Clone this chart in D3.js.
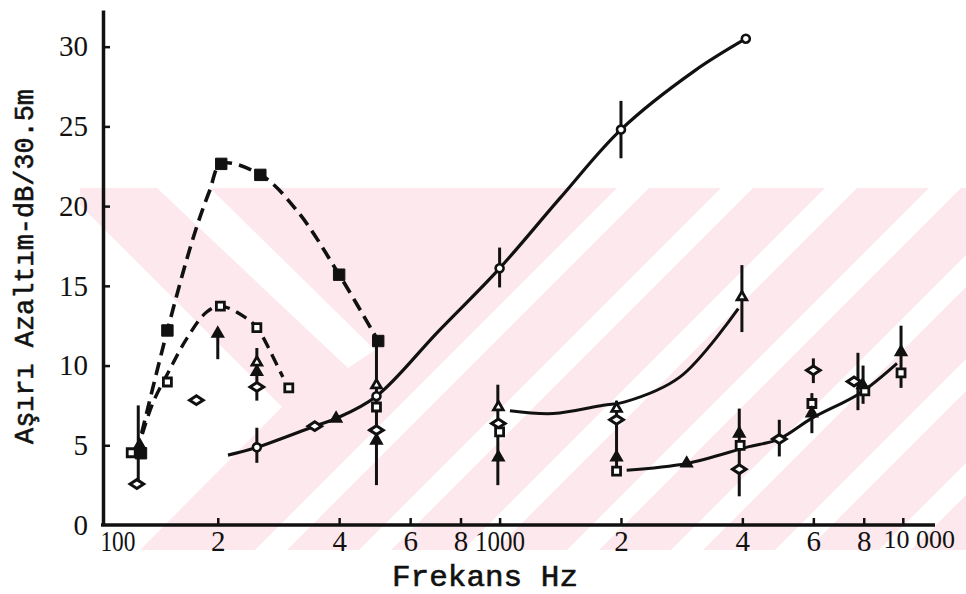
<!DOCTYPE html>
<html><head><meta charset="utf-8">
<script src="https://cdn.jsdelivr.net/npm/d3@7"></script>
<style>body{margin:0;background:#fff}</style>
</head><body>
<svg id="c" width="966" height="594"></svg>
<script>
// ---------- data (frequency Hz, attenuation dB/30.5m) ----------
const xTickValues = [100,200,400,600,800,1000,2000,4000,6000,8000,10000];
const xTickLabels = ["100","2","4","6","8","1000","2","4","6","8","10 000"];
const yTickValues = [0,5,10,15,20,25,30];

const filledSquare   = [[129,4.5],[150,12.2],[204,22.65],[255,21.96],[400,15.7],[500,11.54]];
const openSquare     = [[122,4.53],[150,8.97],[203,13.73],[250,12.38],[300,8.6],[495,7.4],[1000,5.84],[1950,3.38],[3950,5.0],[5950,7.62],[8050,8.41],[9900,9.54]];
const openCircle     = [[250,4.87],[495,8.08],[1000,16.1],[2000,24.8],[4080,30.5]];
const openDiamond    = [[126,2.57],[177,7.83],[250,8.66],[348,6.2],[495,5.95],[993,6.37],[1950,6.6],[3930,3.5],[4940,5.39],[6000,9.7],[7570,9.0]];
const filledTriangle = [[128,5.0],[200,12.0],[250,9.6],[393,6.68],[495,5.3],[993,4.24],[1950,4.24],[2910,3.86],[3930,5.74],[5950,7.0],[7950,8.77],[9900,10.85]];
const openTriangle   = [[250,10.2],[495,8.77],[993,7.4],[1950,7.3],[3990,14.3]];

// error bars [freq, low, high]
const errorBars = [[127,2.6,7.5],[200,10.4,12.0],[250,7.8,11.1],[250,3.9,6.1],[495,2.5,11.5],
  [1000,14.9,17.4],[2000,23.0,26.6],[990,2.5,8.8],[1950,3.4,7.8],[3990,12.1,16.3],[3930,1.8,7.3],
  [4940,4.3,6.6],[6000,8.9,10.45],[5950,5.76,8.27],[7740,7.2,10.8],[7970,7.6,10.0],[9900,8.6,12.5]];

// fitted curves
const curveFilledSquare = [[129.5,5.76],[150,12.21],[174,18.05],[191,20.98],[204,22.65],[255.6,21.96],[317,19.6],[400,15.7],[500,11.54]];
const curveOpenSquare   = [[130,5.7],[138.4,7.72],[150.8,9.58],[167.5,11.69],[187.7,13.36],[203.4,13.73],[236,12.96],[250,12.38],[259,11.77],[290,9.28]];
const curveCircle       = [[212,4.38],[250,4.87],[348,6.2],[393,6.68],[495,8.08],[702,12.1],[1000,16.1],[1412,20.5],[2000,24.8],[3050,28.5],[4080,30.5]];
const curveTriangle     = [[1061,7.16],[1359,6.99],[1808,7.51],[2046,7.72],[2803,9.29],[3908,13.57]];
const curveHigh         = [[2066,3.44],[2911,3.86],[4132,4.9],[4932,5.39],[5954,6.7],[7831,8.27],[9674,10.14]];

// ---------- chart ----------
const svg = d3.select("#c");

// background watermark of the scanned page (decoration only)
const wm = svg.append("g");
wm.append("clipPath").attr("id","wmclip").append("rect").attr("x",80).attr("y",188).attr("width",886).attr("height",362);
const wg = wm.append("g").attr("clip-path","url(#wmclip)");
wg.append("rect").attr("x",80).attr("y",188).attr("width",886).attr("height",362).attr("fill","#fde9ed");
const slashStripes = [805,909,1013,1117,1221,1325,1429];
wg.selectAll(".ss").data(slashStripes).join("polygon")
  .attr("points", c=>`${c-188},188 ${c+32-188},188 ${c+32-550},550 ${c-550},550`)
  .attr("fill","#fff");
wg.append("polygon").attr("points","157,188 210,188 375,350 348,368").attr("fill","#fff");
wg.append("polygon").attr("points","80,205 282,407 140,550 80,550").attr("fill","#fff");

const x = d3.scaleLog().domain([100,12000]).range([96.4, 96.4 + Math.log10(120)*403.2]);
const y = d3.scaleLinear().domain([0,32.3]).range([525,10]);

const line = d3.line().x(d=>x(d[0])).y(d=>y(d[1])).curve(d3.curveCatmullRom.alpha(0.5));

const plot = svg.append("g");

// curves
plot.append("path").attr("d", line(curveFilledSquare)).attr("fill","none").attr("stroke","#111").attr("stroke-width",3.6).attr("stroke-dasharray","13,7");
plot.append("path").attr("d", line(curveOpenSquare)).attr("fill","none").attr("stroke","#111").attr("stroke-width",3.4).attr("stroke-dasharray","12,7");
plot.append("path").attr("d", line(curveCircle)).attr("fill","none").attr("stroke","#111").attr("stroke-width",3.2);
plot.append("path").attr("d", line(curveTriangle)).attr("fill","none").attr("stroke","#111").attr("stroke-width",3);
plot.append("path").attr("d", line(curveHigh)).attr("fill","none").attr("stroke","#111").attr("stroke-width",3);

// error bars
plot.selectAll(".eb").data(errorBars).join("line")
  .attr("x1",d=>x(d[0])).attr("x2",d=>x(d[0]))
  .attr("y1",d=>y(d[1])).attr("y2",d=>y(d[2]))
  .attr("stroke","#111").attr("stroke-width",3);

function markers(data, type, size, filled, sw){
  plot.append("g").selectAll("path").data(data).join("path")
    .attr("transform", d=>`translate(${x(d[0])},${y(d[1])})`)
    .attr("d", d3.symbol().type(type).size(size)())
    .attr("fill", filled ? "#111" : "#fff")
    .attr("stroke","#111").attr("stroke-width", sw);
}
const diamondWide = { draw(ctx, size){ const w=Math.sqrt(size)*0.85, h=Math.sqrt(size)*0.55;
  ctx.moveTo(-w,0); ctx.lineTo(0,-h); ctx.lineTo(w,0); ctx.lineTo(0,h); ctx.closePath(); } };

markers(openDiamond, diamondWide, 64, false, 3);
markers(openSquare, d3.symbolSquare, 64, false, 2.8);
markers(openCircle, d3.symbolCircle, 50, false, 2.6);
markers(openTriangle, d3.symbolTriangle, 40, false, 2.8);
markers(filledSquare, d3.symbolSquare, 130, true, 1);
markers(filledTriangle, d3.symbolTriangle, 60, true, 1.5);

// axes
const xAxis = d3.axisBottom(x).tickValues(xTickValues)
  .tickFormat((d,i)=>xTickLabels[i]).tickSizeInner(-7).tickSizeOuter(0).tickPadding(5);
const gx = svg.append("g").attr("transform","translate(0,525)").call(xAxis);
gx.select(".domain").remove();
gx.append("line").attr("x1",101).attr("x2",935).attr("stroke","#111").attr("stroke-width",3.5);
gx.selectAll(".tick line").attr("stroke","#111").attr("stroke-width",2.5);
gx.selectAll(".tick").filter(d=>d===100).select("line").remove();
gx.selectAll(".tick text").attr("fill","#111")
  .style("font-family","'Liberation Serif', serif").style("font-size","29px")
  .each(function(d){
    const t = d3.select(this);
    if(d===100){ t.attr("x",21).attr("textLength",35).attr("lengthAdjust","spacingAndGlyphs"); }
    else if(d===1000){ t.attr("textLength",50).attr("lengthAdjust","spacingAndGlyphs"); }
    else if(d===10000){ t.attr("x",16).style("font-size","26px"); }
  });

const yAxis = d3.axisLeft(y).tickValues(yTickValues).tickSizeInner(-7).tickSizeOuter(0).tickPadding(15);
const gy = svg.append("g").attr("transform","translate(103,0)").call(yAxis);
gy.select(".domain").attr("stroke","#111").attr("stroke-width",3.5);
gy.selectAll(".tick line").attr("stroke","#111").attr("stroke-width",2.5);
gy.selectAll(".tick").filter(d=>d===0).select("line").remove();
gy.selectAll(".tick text").attr("fill","#111")
  .style("font-family","'Liberation Serif', serif").style("font-size","29px");

// titles
svg.append("text").text("Frekans Hz")
  .attr("x",392).attr("y",586).attr("textLength",186).attr("lengthAdjust","spacingAndGlyphs")
  .style("font-family","'Liberation Mono', monospace").style("font-size","30px")
  .attr("fill","#111").attr("stroke","#111").attr("stroke-width",0.6);
svg.append("text").text("Aşırı Azaltım-dB/30.5m")
  .attr("transform","translate(33,444) rotate(-90)")
  .attr("textLength",355).attr("lengthAdjust","spacingAndGlyphs")
  .style("font-family","'Liberation Mono', monospace").style("font-size","27px")
  .attr("fill","#111").attr("stroke","#111").attr("stroke-width",0.6);
</script>
</body></html>
